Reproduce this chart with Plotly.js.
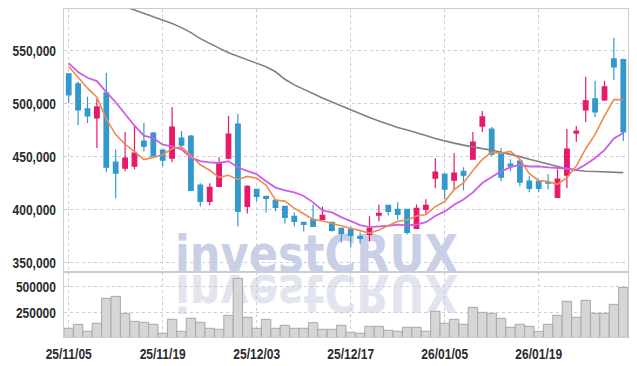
<!DOCTYPE html>
<html><head><meta charset="utf-8">
<script src="https://cdn.plot.ly/plotly-3.0.1.min.js"></script>
<style>
html,body{margin:0;padding:0;background:#fff;}
#wrap{position:relative;width:637px;height:366px;}
#wm{position:absolute;left:0;top:0;}
#chart{position:absolute;left:0;top:0;width:637px;height:366px;}
</style></head><body>
<div id="wrap">
<svg id="wm" width="637" height="366">
  <text x="175" y="271.5" textLength="283" lengthAdjust="spacingAndGlyphs" font-family="DejaVu Sans" font-weight="bold" font-size="52" fill="#c8cfe7">investCRUX</text>
  <g transform="translate(0,546) scale(1,-1)">
    <text x="175" y="271.5" textLength="283" lengthAdjust="spacingAndGlyphs" font-family="DejaVu Sans" font-weight="bold" font-size="52" fill="#e2e5f0">investCRUX</text>
  </g>
</svg>
<div id="chart"></div>
</div>
<script>
var dates = ["25/11/05","25/11/06","25/11/07","25/11/10","25/11/11","25/11/12","25/11/13","25/11/14","25/11/17","25/11/18",
"25/11/19","25/11/20","25/11/21","25/11/24","25/11/25","25/11/26","25/11/27","25/11/28","25/12/01","25/12/02",
"25/12/03","25/12/04","25/12/05","25/12/08","25/12/09","25/12/10","25/12/11","25/12/12","25/12/15","25/12/16",
"25/12/17","25/12/18","25/12/19","25/12/22","25/12/23","25/12/24","25/12/26","25/12/29","25/12/30","26/01/02",
"26/01/05","26/01/06","26/01/07","26/01/08","26/01/09","26/01/12","26/01/13","26/01/14","26/01/15","26/01/16",
"26/01/19","26/01/20","26/01/21","26/01/22","26/01/23","26/01/26","26/01/27","26/01/28","26/01/29","26/01/30"];

var openP = [528200,518700,495000,486400,510200,444700,439000,440900,464600,472200,
456100,448500,467500,469400,422900,407700,421900,448500,480700,402900,
419100,412400,408600,402900,393500,387800,390600,390600,387800,382100,
381100,374500,376400,394600,403900,400100,400100,382100,400100,429500,
433300,427600,436100,447500,478800,476000,453200,442800,445600,426700,
426700,425700,411500,432400,472200,494000,504500,503500,542400,541500];
var highP = [528200,520600,506400,504500,529100,457000,473200,478800,481700,473200,
457000,496900,474100,470300,424800,424800,449400,488300,490200,422900,
419100,412400,408600,402900,397200,387800,404800,402900,387800,382100,
384000,378300,393500,404800,403900,406700,400100,404800,409600,448500,
433300,453200,439900,473200,493100,477900,458000,447500,446600,431400,
426700,433300,438000,476000,478800,525300,521500,521500,562300,542400];
var lowP = [500700,479800,481700,458000,435200,410500,436100,438000,455100,450400,
440900,444700,459900,417200,402900,403900,421900,447500,384000,396300,
407700,397200,398200,386800,384000,379200,384000,390600,379200,368800,
364000,367800,369700,388700,394400,390600,376400,382100,395300,420000,
409600,419100,418100,447500,473200,450400,426700,436100,421900,416200,
416200,419100,411500,420000,463700,482600,487400,502500,522500,464600];
var closeP = [508300,494000,488300,496900,439900,434300,448500,453200,459900,450400,
446600,477900,460800,418100,407700,421000,443700,471300,398200,421900,
412400,410500,402000,392500,388700,385900,384000,394400,380200,377300,
375400,372600,382100,396300,398200,395300,378300,401000,403900,435200,
419100,434300,432400,463700,487400,452300,430500,440900,425700,420000,
420000,424800,428600,457000,474100,502600,492100,515800,534800,473200];

var ma5 = [535100,525000,514600,506000,485500,470700,461600,454600,447200,449200,
451700,457600,459100,450800,442200,437100,430300,432300,428400,431200,
429500,422900,409000,407900,401200,395900,390600,389100,386600,384300,
382300,380000,377500,380700,384900,388900,390000,393800,395300,402700,
407500,418700,425000,436900,447300,454000,453200,454900,447300,433900,
427400,426300,423800,430100,440900,457400,470900,488300,503900,503700];
var ma10 = [538300,529800,524400,521300,510800,501300,490200,479100,469700,467400,
461200,459600,456800,449000,445700,444400,443900,445700,439600,436700,
433300,426600,420700,418100,416200,412700,406700,399000,397200,392800,
389100,385300,383300,383700,384600,385600,385000,385700,388000,393800,
398200,404400,409400,416100,425000,430700,436000,439900,442100,440600,
440700,439700,439400,438700,437400,442400,448600,456100,467000,472300];
var ma60 = [609800,607000,604100,600800,597400,594100,591500,588500,585400,582400,
579400,575600,571800,567100,561400,556600,552400,548100,544800,541500,
538600,534800,530100,523000,517700,513500,509200,505400,501600,497800,
494000,490200,486900,483600,480300,477400,475000,472700,469800,467000,
464600,462700,460800,458900,457500,456100,454200,452300,449900,447500,
445200,442800,440400,438500,437100,436100,435900,435600,435200,434800];

var volume = [100000,138500,71200,148100,388500,407700,244200,167300,157700,138500,
51900,186500,71200,196200,157700,100000,90400,225000,580800,205800,
100000,186500,100000,128800,100000,100000,153800,90400,90400,128800,
61500,51900,119200,119200,80800,71200,109600,109600,71200,263500,
148100,186500,138500,301900,253800,244200,196200,109600,138500,119200,
71200,138500,225000,359600,205800,369200,244200,244200,330800,494200];

var xTicks = [dates[0],dates[10],dates[20],dates[30],dates[40],dates[50]];
var priceTicks = [350000,400000,450000,500000,550000];
var volTicks = [250000,500000];

var tickFont = {family:"Liberation Sans, Arial, sans-serif", size:15, color:"#2b2b2b", weight:"bold"};
var gridColor = "#c9cedf";
var lineColor = "#cccccc";

var traces = [
  {type:"candlestick", x:dates, open:openP, high:highP, low:lowP, close:closeP,
   xaxis:"x", yaxis:"y", whiskerwidth:0,
   increasing:{line:{color:"#e8196a", width:1.2}, fillcolor:"#e8196a"},
   decreasing:{line:{color:"#3399cc", width:1.2}, fillcolor:"#3399cc"},
   hoverinfo:"skip", showlegend:false},
  {type:"scatter", mode:"lines", x:dates, y:ma60, xaxis:"x", yaxis:"y",
   line:{color:"#808080", width:1.6}, showlegend:false, hoverinfo:"skip"},
  {type:"scatter", mode:"lines", x:dates, y:ma10, xaxis:"x", yaxis:"y",
   line:{color:"#cf5ce8", width:1.8}, showlegend:false, hoverinfo:"skip"},
  {type:"scatter", mode:"lines", x:dates, y:ma5, xaxis:"x", yaxis:"y",
   line:{color:"#ef8a4f", width:1.6}, showlegend:false, hoverinfo:"skip"},
  {type:"bar", x:dates, y:volume, xaxis:"x2", yaxis:"y2",
   marker:{color:"#d6d6d6", line:{color:"#a8a8a8", width:1}},
   showlegend:false, hoverinfo:"skip"}
];

var layout = {
  width:637, height:366,
  margin:{l:64, r:9, t:9, b:29, pad:0},
  paper_bgcolor:"rgba(0,0,0,0)", plot_bgcolor:"rgba(0,0,0,0)",
  showlegend:false, bargap:0,
  xaxis:{type:"category", range:[-0.5,59.5], domain:[0,1], anchor:"y",
    categoryorder:"array", categoryarray:dates,
    tickmode:"array", tickvals:xTicks, showticklabels:false,
    showgrid:true, gridcolor:gridColor, griddash:"dot", gridwidth:1,
    showline:true, linecolor:lineColor, linewidth:1, mirror:true,
    zeroline:false, rangeslider:{visible:false}, fixedrange:true},
  xaxis2:{type:"category", range:[-0.5,59.5], domain:[0,1], anchor:"y2",
    categoryorder:"array", categoryarray:dates,
    tickmode:"array", tickvals:xTicks, ticktext:xTicks, tickfont:tickFont,
    showgrid:true, gridcolor:gridColor, griddash:"dot", gridwidth:1,
    showline:true, linecolor:lineColor, linewidth:1, mirror:true,
    zeroline:false, fixedrange:true, ticks:"outside", ticklen:3, tickcolor:"rgba(0,0,0,0)"},
  yaxis:{domain:[0.197,1], range:[340550,589400], anchor:"x",
    tickmode:"array", tickvals:priceTicks, tickformat:",d", tickfont:tickFont,
    showgrid:true, gridcolor:gridColor, griddash:"dot", gridwidth:1,
    showline:true, linecolor:lineColor, linewidth:1, mirror:true,
    zeroline:false, fixedrange:true, ticks:"outside", ticklen:4, tickcolor:"rgba(0,0,0,0)"},
  yaxis2:{domain:[0,0.197], range:[16000,638500], anchor:"x2",
    tickmode:"array", tickvals:volTicks, tickformat:"d", tickfont:tickFont,
    showgrid:true, gridcolor:gridColor, griddash:"dot", gridwidth:1,
    showline:true, linecolor:lineColor, linewidth:1, mirror:true,
    zeroline:false, fixedrange:true, ticks:"outside", ticklen:4, tickcolor:"rgba(0,0,0,0)"}
};

Plotly.newPlot("chart", traces, layout, {displayModeBar:false, staticPlot:true}).then(function(gd){
  // narrow the tick labels to match the condensed face of the reference
  var labels = gd.querySelectorAll(".xtick text, .ytick text, .x2tick text, .y2tick text");
  labels.forEach(function(t){
    var w = t.getComputedTextLength();
    t.setAttribute("textLength", (w*0.8).toFixed(1));
    t.setAttribute("lengthAdjust", "spacingAndGlyphs");
  });
});
</script>
</body></html>
